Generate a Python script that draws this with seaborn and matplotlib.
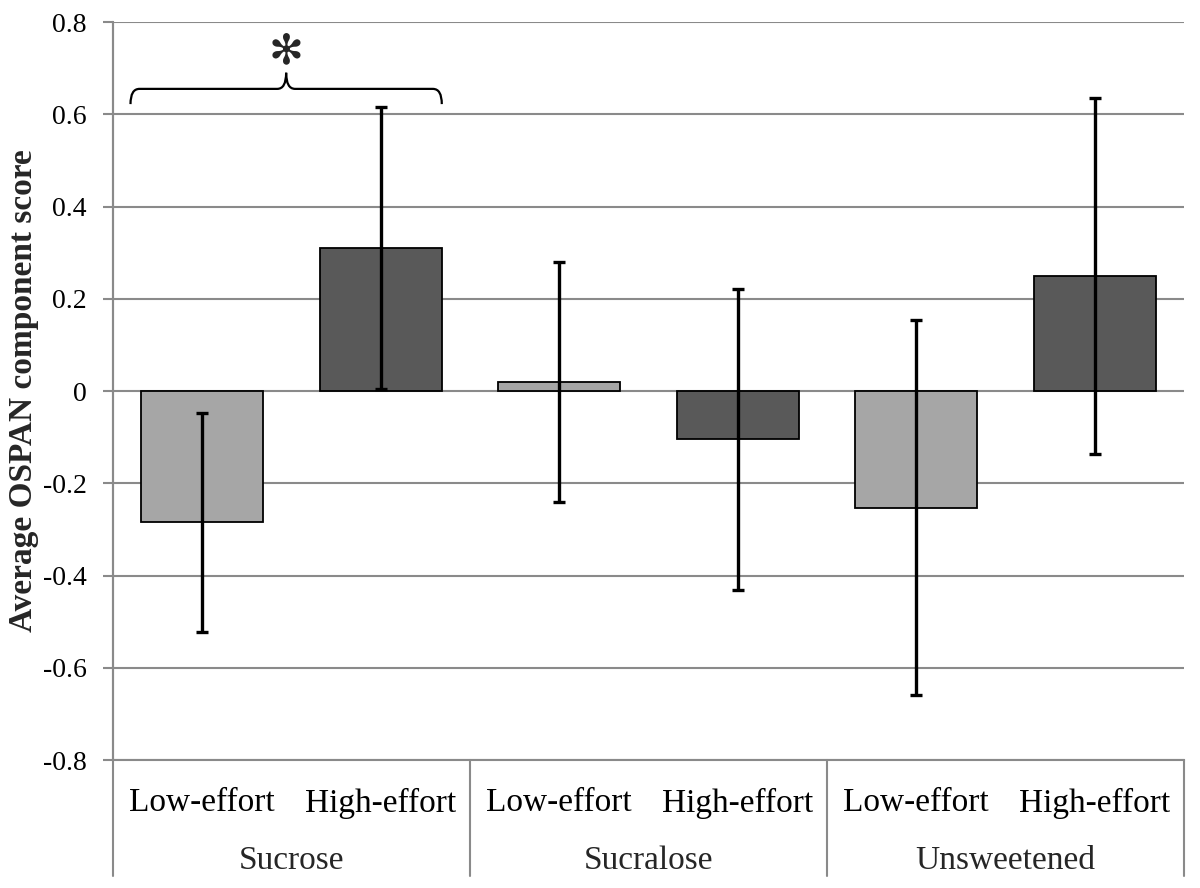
import matplotlib
matplotlib.use("Agg")
import matplotlib.pyplot as plt
import matplotlib.transforms as mtransforms
from matplotlib.path import Path
from matplotlib.patches import PathPatch
import seaborn as sns
import pandas as pd

# ---- data ----
sweeteners = ["Sucrose", "Sucralose", "Unsweetened"]
effort_levels = ["Low-effort", "High-effort"]
low_means = [-0.285, 0.020, -0.253]
high_means = [0.310, -0.105, 0.250]
low_err = [0.237, 0.260, 0.407]
high_err = [0.306, 0.326, 0.386]
yticks = [0.8, 0.6, 0.4, 0.2, 0.0, -0.2, -0.4, -0.6, -0.8]
ytick_labels = ["0.8", "0.6", "0.4", "0.2", "0", "-0.2", "-0.4", "-0.6", "-0.8"]
y_label = "Average OSPAN component score"
sig_marker = "\u273b"

df = pd.DataFrame({
    "Sweetener": sweeteners * 2,
    "Effort": [effort_levels[0]] * 3 + [effort_levels[1]] * 3,
    "Score": low_means + high_means,
    "Err": low_err + high_err,
})

sns.set_style("white")
plt.rcParams["font.family"] = ["Liberation Serif", "DejaVu Sans"]

GRID = "#8a8a8a"
W, H = 1200, 888
fig = plt.figure(figsize=(12, 8.88), dpi=100)
ax = fig.add_axes([113 / W, 1 - 760 / H, (1184 - 113) / W, (760 - 22) / H])

sns.barplot(data=df, x="Sweetener", y="Score", hue="Effort",
            order=sweeteners, hue_order=effort_levels,
            palette=["#a6a6a6", "#595959"], saturation=1,
            width=1.0, gap=0.316, edgecolor="black", linewidth=1.3,
            errorbar=None, legend=False, ax=ax, zorder=3)

# error bars at the bar centres
bars = [p for p in ax.patches if p.get_width() > 0]
centers = {}
for p in bars:
    cx = p.get_x() + p.get_width() / 2
    gi = int(round(cx))
    lvl = 0 if cx < gi else 1
    centers[(sweeteners[gi], effort_levels[lvl])] = (cx, p)
xs = [centers[(s, e)][0] for s, e in zip(df["Sweetener"], df["Effort"])]
ax.errorbar(xs, df["Score"], yerr=df["Err"], fmt="none", ecolor="black",
            elinewidth=2.4, capsize=4.5, capthick=2.4, zorder=4)

# axes styling
ax.set_xlim(-0.5, len(sweeteners) - 0.5)
ax.set_ylim(-0.8, 0.8)
ax.set_yticks(yticks)
ax.set_yticklabels(ytick_labels)
ax.yaxis.grid(True, color=GRID, linewidth=1.5, zorder=0)
ax.set_axisbelow(True)
for s in ["top", "right"]:
    ax.spines[s].set_visible(False)
for s in ["left", "bottom"]:
    ax.spines[s].set_color(GRID)
    ax.spines[s].set_linewidth(1.5)
ax.tick_params(axis="y", length=7, width=1.5, color=GRID, labelsize=20,
               pad=12, left=True, labelcolor="black")

# category labels
tick_pos = sorted(v[0] for v in centers.values())
ax.set_xticks(tick_pos)
ax.set_xticklabels(effort_levels * len(sweeteners))
ax.tick_params(axis="x", length=0, labelsize=24, pad=20, labelcolor="black")
ax.set_xlabel("")
trans = mtransforms.blended_transform_factory(ax.transData, ax.transAxes)
for i, s in enumerate(sweeteners):
    ax.text(i, -0.137, s, transform=trans, ha="center", va="center", fontsize=24)
for b in [i - 0.5 for i in range(len(sweeteners) + 1)]:
    ax.plot([b, b], [0, -0.157], transform=trans, color=GRID, lw=1.5,
            clip_on=False, zorder=1)
ax.plot([-0.5, -0.5], [0, 1], transform=trans, color=GRID, lw=1.5, clip_on=False)

ax.set_ylabel(y_label, fontsize=24, fontweight="bold")
ax.yaxis.set_label_coords(-0.069, 0.5)

# significance brace over the Sucrose group
low_bar = centers[("Sucrose", "Low-effort")][1]
high_bar = centers[("Sucrose", "High-effort")][1]
x0 = low_bar.get_x() - 0.03
x1 = high_bar.get_x() + high_bar.get_width()
xc = (x0 + x1) / 2
y_end, y_mid, y_top = 0.622, 0.655, 0.69
dx = 0.025
verts = [(x0, y_end), (x0, y_mid), (x0 + dx, y_mid),
         (xc - dx, y_mid), (xc, y_mid), (xc, y_top),
         (xc, y_mid), (xc + dx, y_mid),
         (x1 - dx, y_mid), (x1, y_mid), (x1, y_end)]
codes = [Path.MOVETO, Path.CURVE3, Path.CURVE3,
         Path.LINETO, Path.CURVE3, Path.CURVE3,
         Path.CURVE3, Path.CURVE3,
         Path.LINETO, Path.CURVE3, Path.CURVE3]
ax.add_patch(PathPatch(Path(verts, codes), facecolor="none", edgecolor="black",
                       lw=1.6, zorder=5, clip_on=False))
ax.text(xc, 0.737, sig_marker, ha="center", va="center", fontsize=30,
        family=["DejaVu Sans"], fontweight="bold", zorder=5)

fig.savefig("out.png", dpi=100)
